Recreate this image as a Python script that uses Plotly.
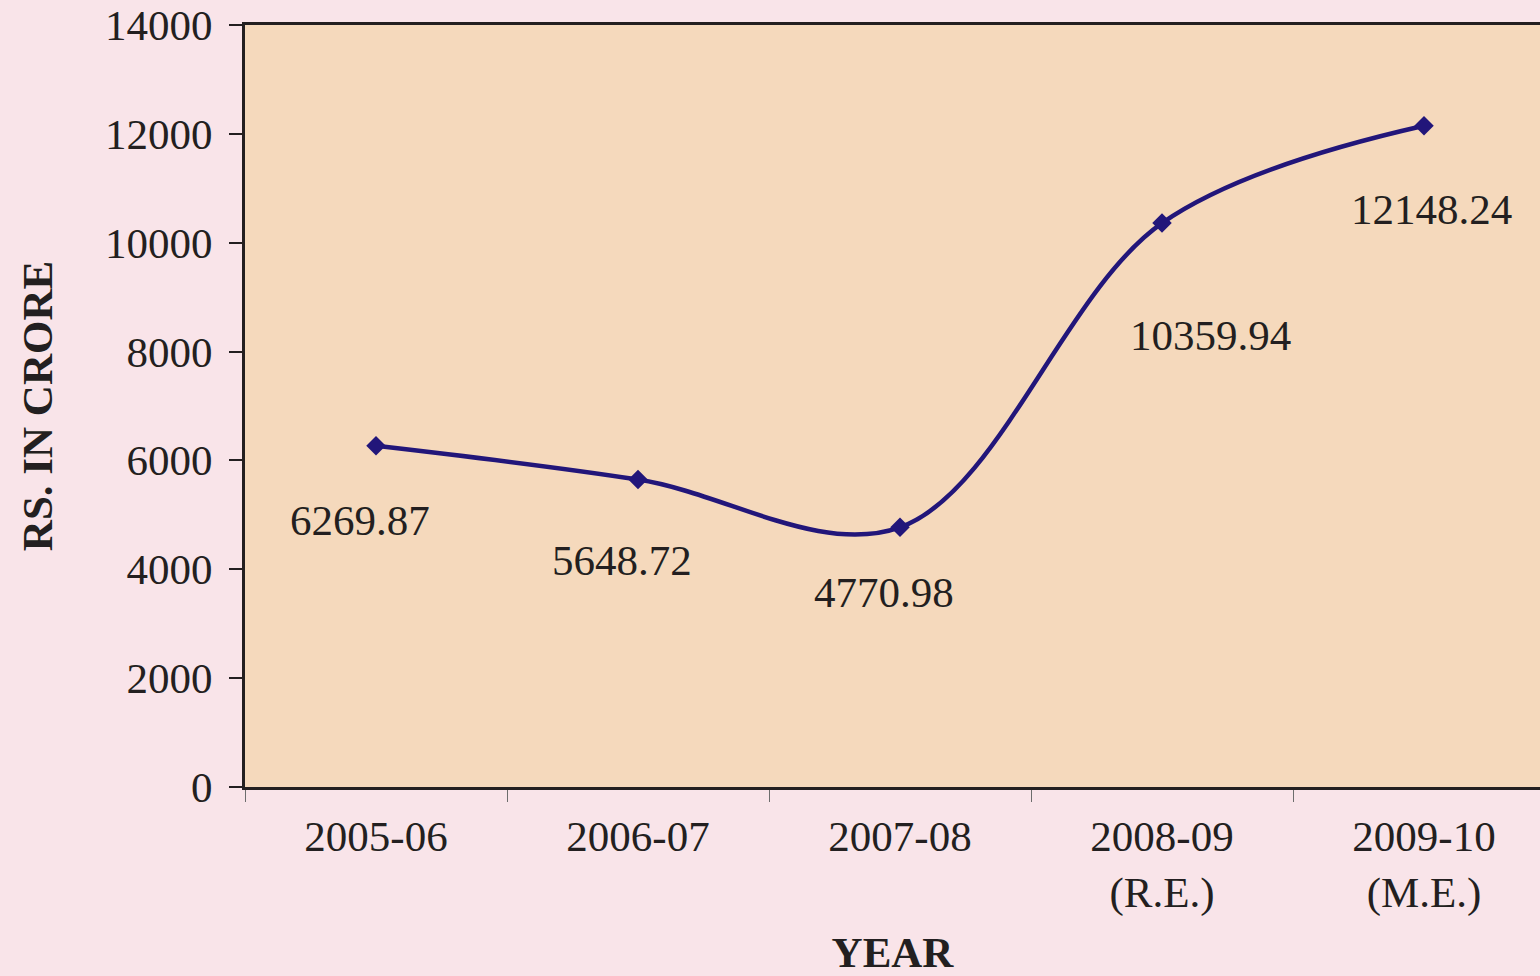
import plotly.graph_objects as go

years = ["2005-06", "2006-07", "2007-08", "2008-09<br>(R.E.)", "2009-10<br>(M.E.)"]
values = [6269.87, 5648.72, 4770.98, 10359.94, 12148.24]
value_labels = ["6269.87", "5648.72", "4770.98", "10359.94", "12148.24"]
y_ticks = [0, 2000, 4000, 6000, 8000, 10000, 12000, 14000]

# label offsets (pixels) relative to each point
label_dx = [-16, -16, -16, 48, 7]
label_dy = [-75, -81, -65, -112, -84]

FONT = "Liberation Serif, Times New Roman, serif"
INK = "#231F20"
LINE = "#22167A"
FS = 43

fig = go.Figure()
fig.add_trace(go.Scatter(
    x=years, y=values, mode="lines+markers",
    line=dict(color=LINE, width=4.5, shape="spline", smoothing=1.0),
    marker=dict(symbol="diamond", size=15, color=LINE),
    hoverinfo="skip", showlegend=False,
))

for xv, yv, lab, dx, dy in zip(years, values, value_labels, label_dx, label_dy):
    fig.add_annotation(x=xv, y=yv, text=lab, showarrow=False,
                       xshift=dx, yshift=dy,
                       font=dict(family=FONT, size=FS, color=INK))

span = 1295 / 262.0
fig.update_layout(
    width=1540, height=976,
    margin=dict(l=245, r=0, t=25, b=189),
    paper_bgcolor="#F9E4E9",
    plot_bgcolor="#F5D9BC",
    font=dict(family=FONT, size=FS, color=INK),
    xaxis=dict(
        type="category", range=[-0.5, -0.5 + span],
        showline=True, linecolor=INK, linewidth=3, mirror=True,
        ticks="outside", tickson="boundaries", ticklen=12, tickwidth=1,
        tickcolor="#6d6d6d", showgrid=False, zeroline=False,
        tickfont=dict(family=FONT, size=FS, color=INK),
        ticklabelstandoff=9,
        title=dict(text="<b>YEAR</b>", font=dict(family=FONT, size=FS, color=INK), standoff=28),
    ),
    yaxis=dict(
        range=[0, 14000], tickvals=y_ticks, ticktext=[str(v) for v in y_ticks],
        showline=True, linecolor=INK, linewidth=3,
        ticks="outside", ticklen=13, tickwidth=2, tickcolor=INK,
        showgrid=False, zeroline=False,
        tickfont=dict(family=FONT, size=FS, color=INK),
        ticklabelstandoff=8,
        title=dict(text="<b>RS. IN CRORE</b>", font=dict(family=FONT, size=FS, color=INK), standoff=39),
    ),
)

fig.write_html("out.html", config={"displayModeBar": False},
               post_script="document.body.style.margin='0';document.body.style.background='#F9E4E9';")
